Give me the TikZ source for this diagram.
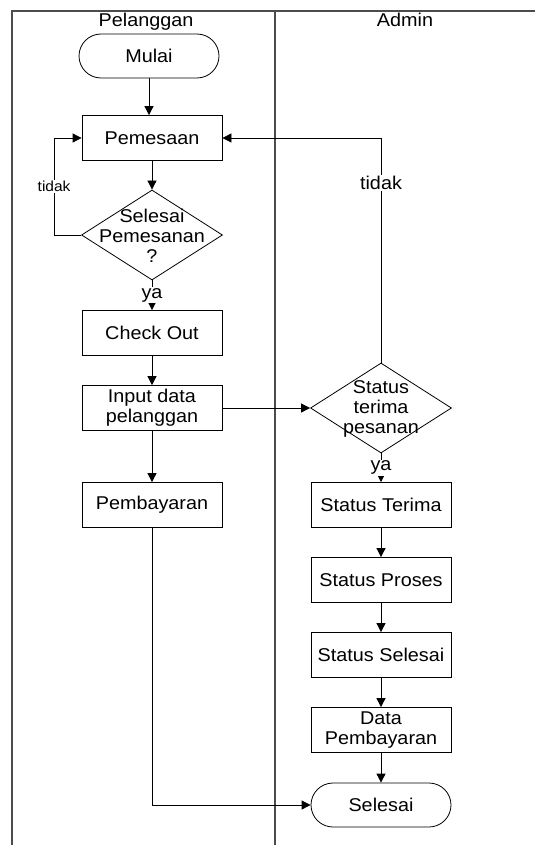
\documentclass[tikz,border=0pt]{standalone}
\usepackage{fontspec}
\setmainfont{Liberation Sans}[FakeStretch=1.07]
\usetikzlibrary{arrows.meta,shapes.geometric}
\begin{document}
\begin{tikzpicture}[x=1pt,y=-1pt,
  txt/.style={font=\fontsize{18.5}{20}\selectfont},
  box/.style={draw,line width=0.8pt,minimum width=140pt,minimum height=45pt,inner sep=0pt,align=center,txt},
  term/.style={box,rounded corners=22pt,minimum height=44pt},
  dec/.style={draw,line width=0.8pt,diamond,inner sep=0pt,minimum width=141pt,minimum height=90pt},
  dectext/.style={align=center,inner sep=0pt,txt},
  arr/.style={line width=0.8pt,-{Triangle[length=9pt,width=9pt]}},
  lab/.style={fill=white,inner sep=1pt,txt},
  frame/.style={line width=1.1pt,black!70}]
\useasboundingbox (0,0) rectangle (535,845);
% swimlane frame
\draw[frame] (535,11) -- (12,11) -- (12,845);
\draw[frame] (275,11) -- (275,845);
\node[txt] (lane1) at (146,22) {Pelanggan};
\node[txt] (lane2) at (405,20) {Admin};
% left column
\node[term] (mulai) at (149,56) {Mulai};
\node[box] (pem) at (152,138) {Pemesaan};
\node[dec] (d1) at (152,235) {};
\node[dectext] (d1t) at (152,236) {Selesai\\Pemesanan\\?};
\node[box] (co) at (152,333) {Check Out};
\node[box] (inp) at (152,408) {Input data\\pelanggan};
\node[box] (bay) at (152,505) {Pembayaran};
% right column
\node[dec] (d2) at (381,408) {};
\node[dectext] (d2t) at (381,409) {Status\\terima\\pesanan};
\node[box] (st) at (381,505) {Status Terima};
\node[box] (sp) at (381,580) {Status Proses};
\node[box] (ss) at (381,655) {Status Selesai};
\node[box] (dp) at (381,730) {Data\\Pembayaran};
\node[term] (sel) at (381,805) {Selesai};
% connectors
\draw[arr] (mulai.south) -- (mulai.south |- pem.north);
\draw[arr] (pem) -- (d1.north);
\draw[arr] (d1.west) -- ++(-27,0) |- (pem.west) node[pos=0.25,fill=white,inner sep=1pt,font=\fontsize{14.5}{16}\selectfont] {tidak};
\draw[arr] (d1.south) -- (co.north) node[midway,lab] {ya};
\draw[arr] (co) -- (inp);
\draw[arr] (inp) -- (bay);
\draw[arr] (inp.east) -- (d2.west);
\draw[arr] (d2.north) |- (pem.east) node[pos=0.4,lab] {tidak};
\draw[arr] (d2.south) -- (st.north) node[midway,lab] {ya};
\draw[arr] (st) -- (sp);
\draw[arr] (sp) -- (ss);
\draw[arr] (ss) -- (dp);
\draw[arr] (dp) -- (sel);
\draw[arr] (bay.south) |- (sel.west);
\end{tikzpicture}
\end{document}
